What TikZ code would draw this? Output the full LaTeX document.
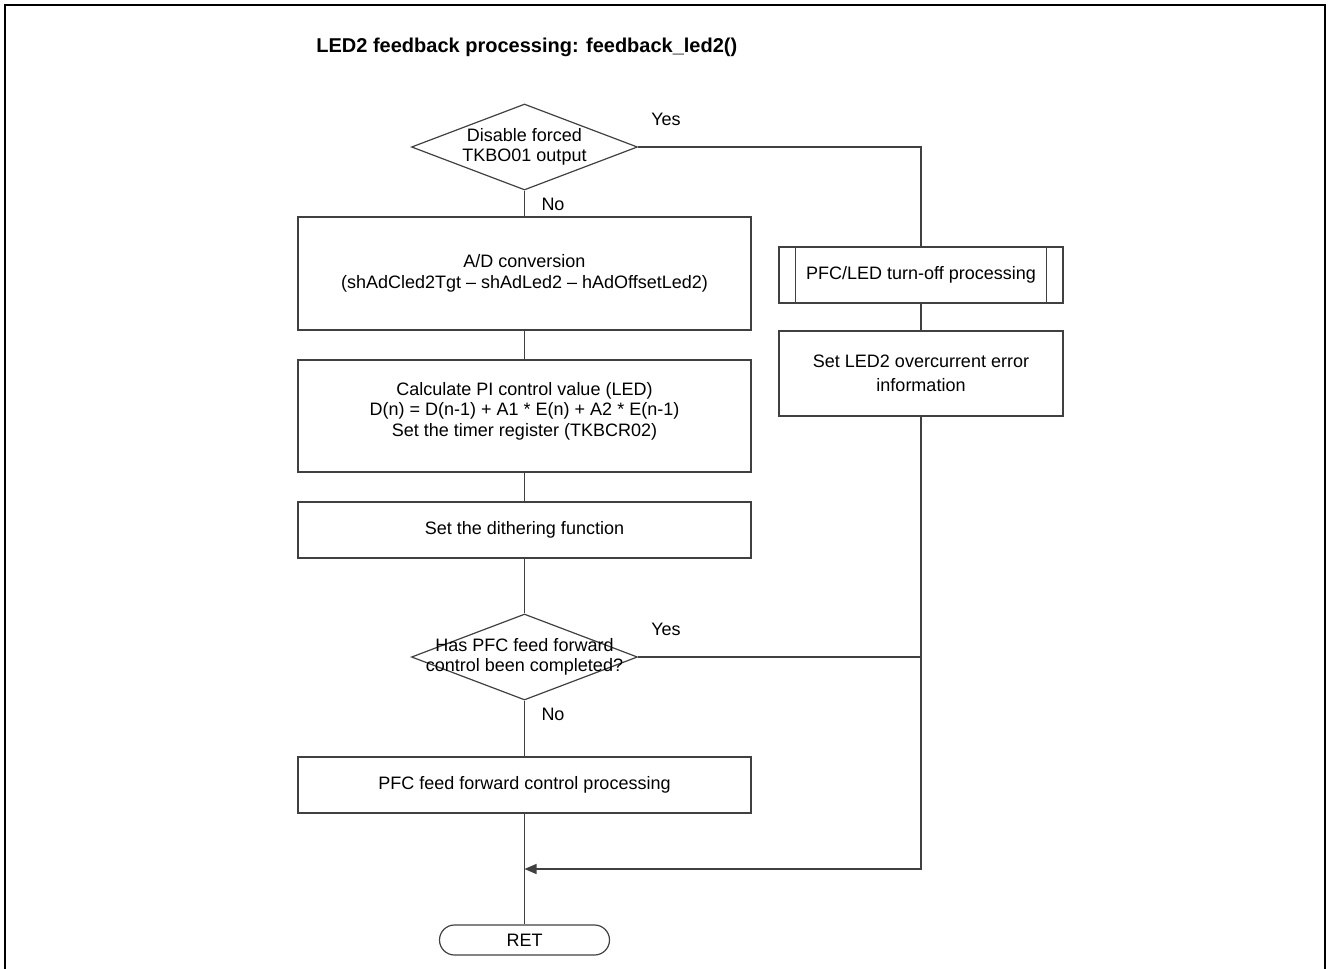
\documentclass[tikz,border=0pt]{standalone}
\usepackage{fontspec}
\setmainfont{Liberation Sans}
\usetikzlibrary{shapes.geometric,arrows.meta}
\begin{document}
\begin{tikzpicture}[x=0.5pt,y=-0.5pt,
  line/.style={draw=black!75, line width=0.6pt},
  proc/.style={line, rectangle, minimum width=226.5pt, inner sep=0pt, align=center,
    font=\fontsize{9}{10.3}\selectfont},
  side/.style={line, rectangle, minimum width=142pt, inner sep=0pt, align=center,
    font=\fontsize{9}{12}\selectfont},
  dia/.style={line, diamond, minimum width=113pt, minimum height=43pt, inner sep=0pt},
  diatext/.style={align=center, inner sep=0pt, font=\fontsize{9}{10.3}\selectfont},
  lbl/.style={inner sep=0pt, font=\fontsize{9}{10}\selectfont},
  term/.style={line, rectangle, rounded corners=7.5pt, minimum width=85pt,
    minimum height=15pt, inner sep=0pt, font=\fontsize{9}{10}\selectfont},
  flow/.style={line},
  arr/.style={line, -{Triangle[length=6pt,width=5pt]}}]
\useasboundingbox (0,0) rectangle (1328,969);
% frame
\draw[line width=1pt] (5,975) -- (5,5) -- (1325,5) -- (1325,975);
% title
\node[anchor=west, inner sep=0pt, font=\bfseries\fontsize{10}{11}\selectfont] (title) at (316,47)
  {LED2 feedback processing: feedback\_led2()};

% main column
\node[dia] (d1) at (524.5,147) {};
\node[diatext] (d1t) at (d1) {Disable forced\\TKBO01 output};
\node[proc, minimum height=56.5pt] (b1) at (524.5,273.5)
  {A/D conversion\\(shAdCled2Tgt -- shAdLed2 -- hAdOffsetLed2)};
\node[proc, minimum height=56pt] (b2) at (524.5,416) {};
\node[diatext] (b2t) at (524.5,411)
  {Calculate PI control value (LED)\\D(n) = D(n-1) + A1 * E(n) + A2 * E(n-1)\\Set the timer register (TKBCR02)};
\node[proc, minimum height=28pt] (b3) at (524.5,530) {Set the dithering function};
\node[dia] (d2) at (524.5,657) {};
\node[diatext] (d2t) at (d2) {Has PFC feed forward\\control been completed?};
\node[proc, minimum height=28pt] (b4) at (524.5,785) {PFC feed forward control processing};
\node[term] (ret) at (524.5,940) {RET};

% right column
\node[side, minimum height=28pt] (p1) at (921,275) {PFC/LED turn-off processing};
\draw[line] ([xshift=8.5pt]p1.north west) -- ([xshift=8.5pt]p1.south west);
\draw[line] ([xshift=-8.5pt]p1.north east) -- ([xshift=-8.5pt]p1.south east);
\node[side, minimum height=42.5pt] (oc) at (921,373.5) {Set LED2 overcurrent error\\information};

% labels
\node[lbl] (y1) at (666,119) {Yes};
\node[lbl] (n1) at (553,204) {No};
\node[lbl] (y2) at (666,629) {Yes};
\node[lbl] (n2) at (553,714) {No};

% connectors
\coordinate (jr) at (921,869);
\coordinate (jm) at (524.5,869);
\draw[flow] (d1.south) -- (b1.north);
\draw[flow] (b1.south) -- (b2.north);
\draw[flow] (b2.south) -- (b3.north);
\draw[flow] (b3.south) -- (d2.north);
\draw[flow] (d2.south) -- (b4.north);
\draw[flow] (b4.south) -- (ret.north);
\draw[flow] (d1.east) -| (p1.north);
\draw[flow] (p1.south) -- (oc.north);
\draw[flow] (d2.east) -- (oc.south |- d2.east);
\draw[arr] (oc.south) -- (jr) -- (jm);
\end{tikzpicture}
\end{document}
